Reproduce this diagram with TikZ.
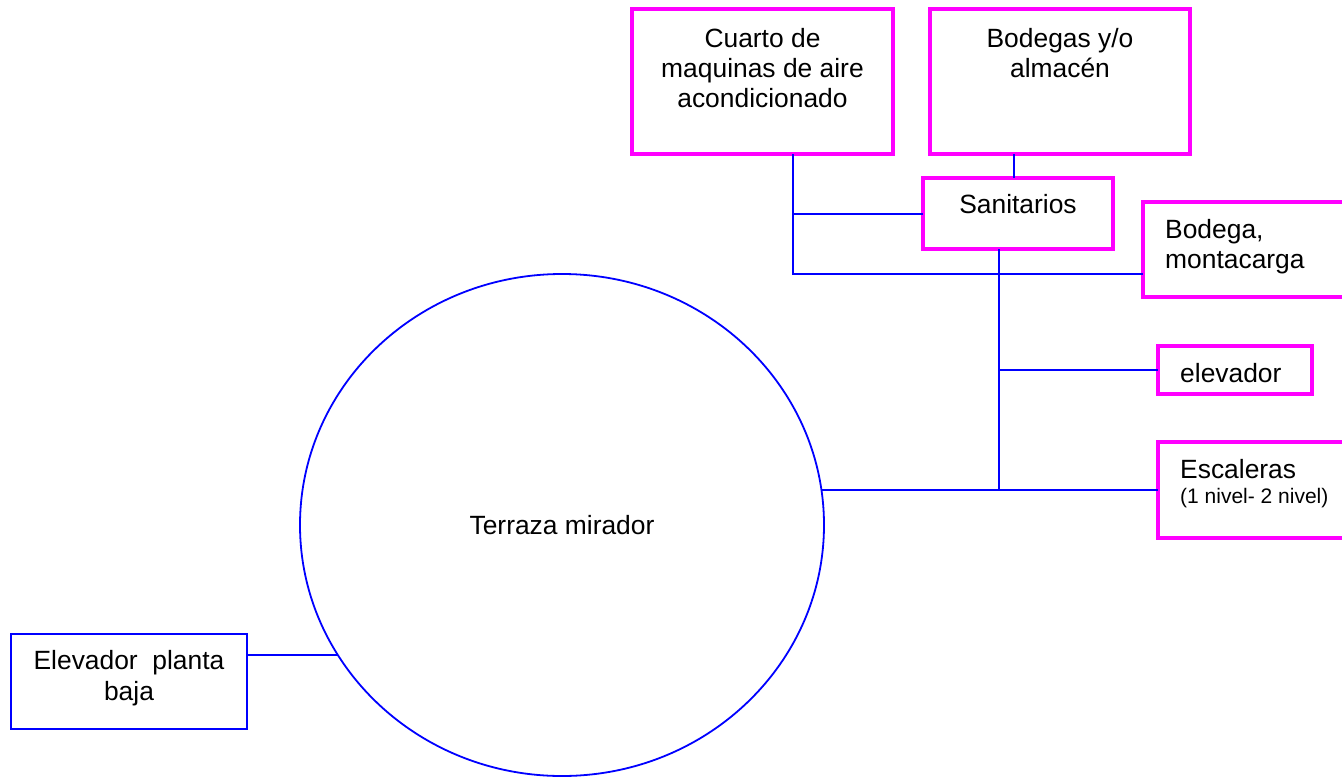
\documentclass[tikz,border=0pt]{standalone}
\usepackage{fontspec}
\setmainfont{Liberation Sans}
\usetikzlibrary{shapes.geometric}

\definecolor{roomedge}{RGB}{255,0,255}
\definecolor{linkblue}{RGB}{0,0,255}

\begin{document}
\begin{tikzpicture}[x=1pt,y=-1pt,
  room/.style={draw=roomedge, line width=3.75pt, rectangle, inner sep=0pt,
               outer sep=0pt, anchor=north west},
  bluebox/.style={draw=linkblue, line width=1.8pt, rectangle, inner sep=0pt,
               outer sep=0pt, anchor=north west},
  txt/.style={font=\fontsize{26.4}{30}\selectfont, inner sep=0pt, anchor=base},
  smalltxt/.style={font=\fontsize{21}{24}\selectfont, inner sep=0pt, anchor=base west},
  link/.style={draw=linkblue, line width=1.9pt}]

% page and clipping
\useasboundingbox (0,0) rectangle (1342,777);
\fill[white] (0,0) rectangle (1342,777);
\clip (0,0) rectangle (1342,777);

% rooms
\node[room, minimum width=261pt, minimum height=145pt] (cuarto) at (632,9) {};
\node[room, minimum width=260pt, minimum height=145pt] (bodegas) at (930,9) {};
\node[room, minimum width=190pt, minimum height=71pt] (sanit) at (923,178) {};
\node[room, minimum width=230pt, minimum height=95pt] (montac) at (1143,202) {};
\node[room, minimum width=154pt, minimum height=48pt] (elev) at (1158,346) {};
\node[room, minimum width=220pt, minimum height=96pt] (escal) at (1158,442) {};
\node[bluebox, minimum width=236pt, minimum height=95pt] (epb) at (11,634) {};

% terrace
\node[ellipse, draw=linkblue, line width=1.8pt, inner sep=0pt, outer sep=0pt,
      minimum width=524pt, minimum height=502pt,
      font=\fontsize{26.4}{30}\selectfont] (terr) at (562,525) {Terraza mirador};

% labels (base anchor of a multi-line node sits on its last line)
\node[txt, align=center] (tcuarto) at (762.5,107) {Cuarto de\\maquinas de aire\\acondicionado};
\node[txt, align=center] (tbodegas) at (1060,77) {Bodegas y/o\\almacén};
\node[txt] (tsanit) at (1018,213) {Sanitarios};
\node[txt, align=left, anchor=base west] (tmontac) at (1165,268) {Bodega,\\montacarga};
\node[txt, anchor=base west] (telev) at (1180,382) {elevador};
\node[txt, anchor=base west] (tescal) at (1180,478) {Escaleras};
\node[smalltxt] (tnivel) at (1180,503) {(1 nivel- 2 nivel)};
\node[txt, align=center, font=\fontsize{26.4}{31}\selectfont] (tepb) at (129,700) {Elevador\ \ planta\\baja};

% junction points
\coordinate (jsan) at (793,214);
\coordinate (jcorner) at (793,274);
\coordinate (jbod) at (1014,154);
\coordinate (trunk) at (999,490);

% connectors
\draw[link] (cuarto.south -| jcorner) -- (jcorner) -- (montac.west |- jcorner);
\draw[link] (sanit.west |- jsan) -- (jsan);
\draw[link] (bodegas.south -| jbod) -- (sanit.north -| jbod);
\draw[link] (sanit.south -| trunk) -- (trunk);
\draw[link] (elev.west) -- (elev.west -| trunk);
\draw[link] (escal.west) -- (terr.7.68 |- escal.west);
\draw[link] (epb.east |- terr.210.9) -- (terr.210.9);
\end{tikzpicture}
\end{document}
